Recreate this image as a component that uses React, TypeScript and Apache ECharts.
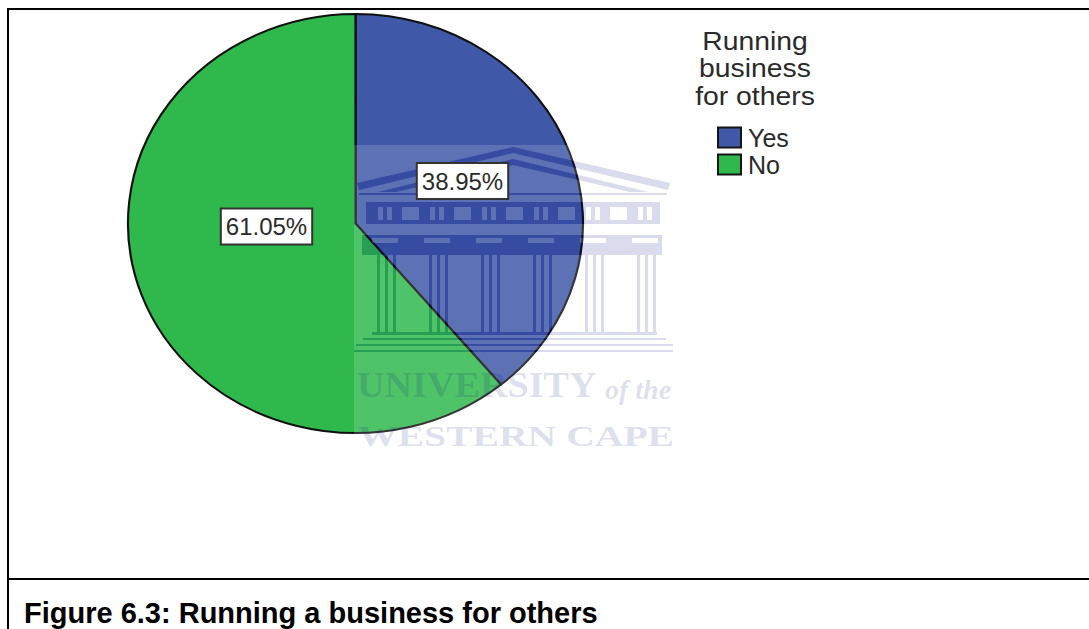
import React, { useEffect, useRef } from "react";
import * as echarts from "echarts";

// Survey result: share of respondents running a business for others
const categories = ["Yes", "No"];
const shares = [38.95, 61.05];
const sliceColors = ["#3f58a8", "#2fb84c"];
const legendTitle = ["Running", "business", "for others"];
const caption = "Figure 6.3: Running a business for others";

// Plot geometry: the pie is stretched horizontally
const PIE = { cx: 355.5, cy: 223.5, rx: 227.5, ry: 209.5 };
const LABEL_CENTRES = [
  [462.5, 181],
  [266.5, 226.5],
];

// Crest behind the pie, built out of small polygons. The pale haze panel is cut
// where the ink runs so the dark strokes are not lightened by it.
type Pt = [number, number];
const rectPts = (x0: number, y0: number, x1: number, y1: number): Pt[] => [
  [x0, y0],
  [x1, y0],
  [x1, y1],
  [x0, y1],
];

function rowWithGaps(x0: number, x1: number, y0: number, y1: number, gaps: number[][]): Pt[][] {
  const out: Pt[][] = [];
  let cur = x0;
  gaps.forEach(([a, b]) => {
    out.push(rectPts(cur, y0, a, y1));
    cur = b;
  });
  out.push(rectPts(cur, y0, x1, y1));
  return out;
}

function crestPolygons(): Pt[][] {
  const polys: Pt[][] = [];
  const colStep = 52;
  const columnIdx = [0, 1, 2, 3, 4, 5];
  // Roof bands
  polys.push([[357, 183], [513, 147], [670, 183], [668, 190], [513, 153], [359, 190]]);
  polys.push([[378, 192], [513, 159], [648, 192], [630, 192], [513, 165], [396, 192]]);
  // Cornice
  polys.push(rectPts(359, 193, 667, 195));
  // Frieze with windows and triglyphs
  const friezeGaps: number[][] = [];
  columnIdx.forEach((i) => {
    const x = 378 + colStep * i;
    friezeGaps.push([x, x + 5], [x + 9, x + 14]);
    if (i < 5) friezeGaps.push([x + 24, x + 41]);
  });
  polys.push(rectPts(366, 202, 660, 207));
  polys.push(...rowWithGaps(366, 660, 207, 220, friezeGaps));
  polys.push(rectPts(366, 220, 660, 224));
  // Architrave with capitals
  polys.push(rectPts(362, 235, 662, 238));
  polys.push(...rowWithGaps(362, 662, 238, 243, columnIdx.map((i) => [372 + colStep * i, 398 + colStep * i])));
  polys.push(rectPts(362, 243, 662, 255));
  // Fluted columns
  columnIdx.forEach((i) => {
    const x = 377 + colStep * i;
    polys.push(rectPts(x, 255, x + 3, 332));
    polys.push(rectPts(x + 8, 255, x + 11, 332));
    polys.push(rectPts(x + 16, 255, x + 19, 332));
  });
  // Stepped plinth
  polys.push(rectPts(372, 332, 657, 335));
  polys.push(rectPts(363, 338, 666, 340));
  polys.push(rectPts(356, 344, 673, 346));
  polys.push(rectPts(354, 350, 673, 352));
  return polys;
}

const toPath = (pts: Pt[], reverse: boolean) => {
  const list = reverse ? [...pts].reverse() : pts;
  return list.map(([x, y], i) => `${i ? "L" : "M"}${x} ${y}`).join(" ") + " Z";
};

const crest = crestPolygons();
const inkPath = crest.map((p) => toPath(p, false)).join(" ");
const hazePath =
  toPath(rectPts(354, 145, 673, 455), false) + " " + crest.map((p) => toPath(p, true)).join(" ");
echarts.graphic.registerShape("crestInk", echarts.graphic.extendPath(inkPath, {}) as any);
echarts.graphic.registerShape("crestHaze", echarts.graphic.extendPath(hazePath, {}) as any);

const INK = "rgba(0,10,130,0.145)";
const TEXT_INK = "rgba(0,10,120,0.15)";

function sliceSeries(index: number) {
  const total = shares.reduce((a, b) => a + b, 0);
  const before = shares.slice(0, index).reduce((a, b) => a + b, 0);
  const start = -Math.PI / 2 + (before / total) * Math.PI * 2;
  const end = start + (shares[index] / total) * Math.PI * 2;
  return {
    type: "custom",
    name: categories[index],
    coordinateSystem: "none",
    z: 1,
    silent: true,
    itemStyle: { color: sliceColors[index] },
    data: [[shares[index]]],
    renderItem: () => ({
      type: "sector",
      x: PIE.cx,
      y: PIE.cy,
      scaleX: PIE.rx / PIE.ry,
      shape: { cx: 0, cy: 0, r0: 0, r: PIE.ry, startAngle: start, endAngle: end, clockwise: true },
      style: { fill: sliceColors[index], stroke: "#101010", lineWidth: 2 },
    }),
  };
}

const labelSeries = {
  type: "custom",
  name: "labels",
  coordinateSystem: "none",
  z: 10,
  silent: true,
  data: shares.map((v) => [v]),
  renderItem: (params: any) => {
    const [x, y] = LABEL_CENTRES[params.dataIndex];
    return {
      type: "text",
      x,
      y,
      style: {
        text: `${shares[params.dataIndex].toFixed(2)}%`,
        font: '24px "Liberation Sans", Arial, sans-serif',
        fill: "#2a2a2a",
        align: "center",
        verticalAlign: "middle",
        backgroundColor: "#ffffff",
        borderColor: "#333333",
        borderWidth: 2,
        padding: [5, 4, 5, 4],
      },
    };
  },
};

export default function App() {
  const ref = useRef<HTMLDivElement>(null);
  useEffect(() => {
    if (!ref.current) return;
    const chart = echarts.init(ref.current, undefined, { renderer: "svg" });
    chart.setOption({
      animation: false,
      backgroundColor: "#ffffff",
      legend: {
        data: categories,
        orient: "vertical",
        left: 717,
        top: 125,
        padding: 0,
        itemWidth: 23,
        itemHeight: 20,
        itemGap: 2,
        icon: "rect",
        selectedMode: false,
        itemStyle: { borderColor: "#151515", borderWidth: 2 },
        textStyle: { fontFamily: '"Liberation Sans", Arial, sans-serif', fontSize: 25, color: "#2a2a2a", padding: [0, 0, 0, 2] },
      },
      series: [sliceSeries(0), sliceSeries(1), labelSeries],
      graphic: {
        elements: [
          // Frame lines
          { type: "line", z: 8, shape: { x1: 8, y1: 9, x2: 1089, y2: 9 }, style: { stroke: "#000", lineWidth: 2 } },
          { type: "line", z: 8, shape: { x1: 8, y1: 8, x2: 8, y2: 629 }, style: { stroke: "#000", lineWidth: 2 } },
          { type: "line", z: 8, shape: { x1: 8, y1: 579, x2: 1089, y2: 579 }, style: { stroke: "#000", lineWidth: 2 } },
          // Crest
          { type: "crestHaze", z: 5, x: 0, y: 0, silent: true, style: { fill: "rgba(255,255,255,0.156)" } },
          { type: "crestInk", z: 5, x: 0, y: 0, silent: true, style: { fill: INK } },
          {
            type: "text", z: 6, x: 357, y: 403, scaleX: 1.09, silent: true,
            style: { text: "UNIVERSITY", font: 'bold 35px "Liberation Serif", serif', fill: TEXT_INK, verticalAlign: "bottom" },
          },
          {
            type: "text", z: 6, x: 605, y: 403, silent: true,
            style: { text: "of the", font: 'italic bold 28px "Liberation Serif", serif', fill: TEXT_INK, verticalAlign: "bottom" },
          },
          {
            type: "text", z: 6, x: 358, y: 451, scaleX: 1.3, silent: true,
            style: { text: "WESTERN CAPE", font: 'bold 30.5px "Liberation Serif", serif', fill: TEXT_INK, verticalAlign: "bottom" },
          },
          // Legend heading
          {
            type: "text", z: 8, x: 755, y: 27, scaleX: 1.09,
            style: {
              text: legendTitle.join("\n"),
              font: '26px "Liberation Sans", Arial, sans-serif',
              lineHeight: 27.5,
              fill: "#2a2a2a",
              align: "center",
              verticalAlign: "top",
            },
          },
          // Figure caption
          {
            type: "text", z: 8, x: 24, y: 598,
            style: { text: caption, font: 'bold 29px "Liberation Sans", Arial, sans-serif', fill: "#000", verticalAlign: "top" },
          },
        ],
      },
    });
    return () => chart.dispose();
  }, []);
  return <div ref={ref} style={{ position: "absolute", left: 0, top: 0, width: 1089, height: 629 }} />;
}
